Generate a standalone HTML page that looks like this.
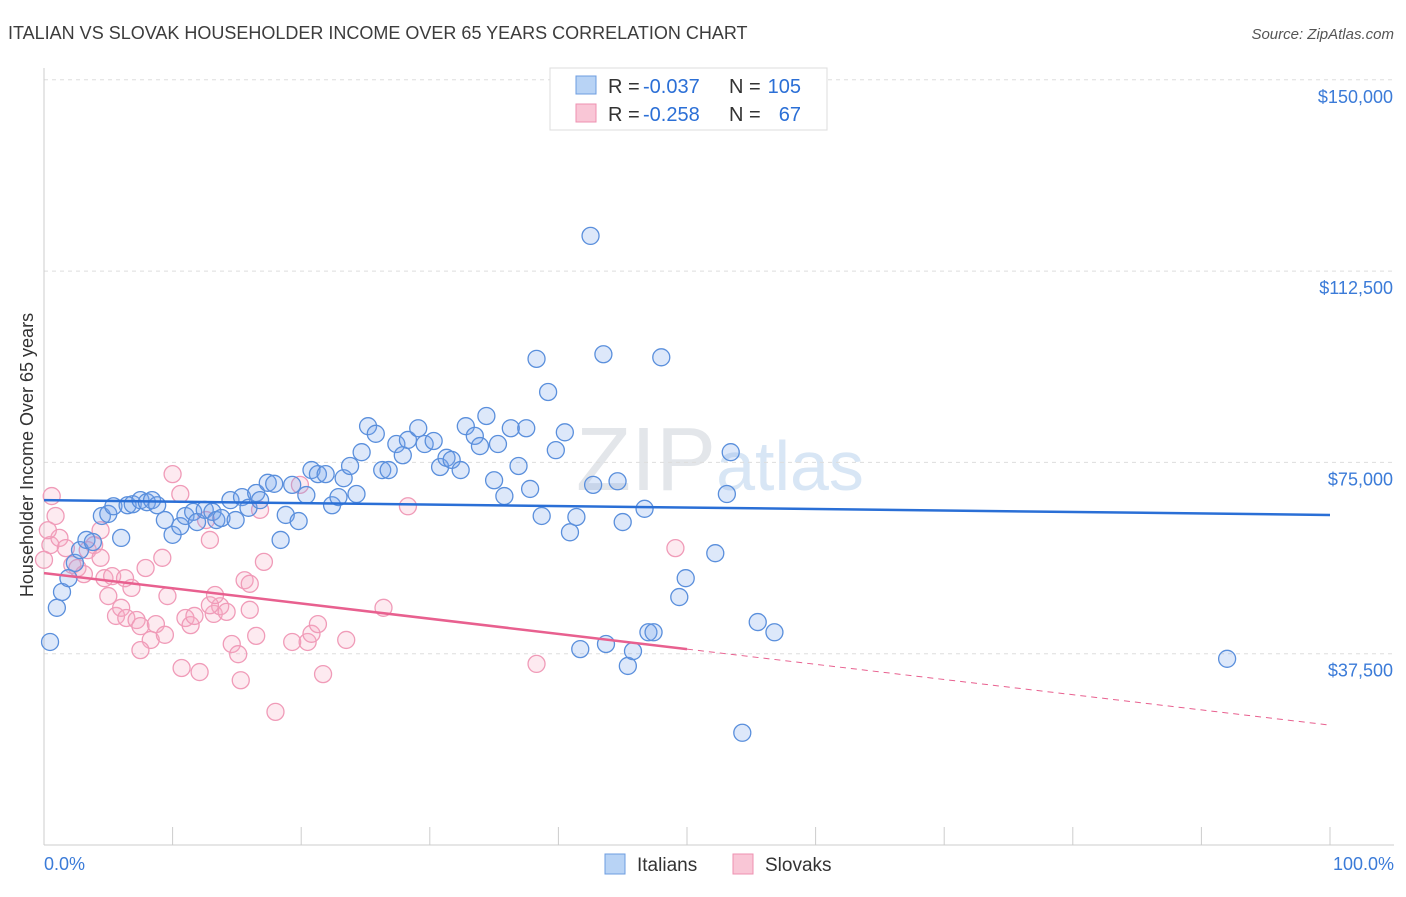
<!DOCTYPE html>
<html><head><meta charset="utf-8"><style>
body{margin:0;background:#fff;font-family:"Liberation Sans",sans-serif;}
svg text{font-family:"Liberation Sans",sans-serif;}
</style></head><body>
<svg id="chart" width="1406" height="892">
<text x="8" y="39" font-size="18" fill="#3c3c3c">ITALIAN VS SLOVAK HOUSEHOLDER INCOME OVER 65 YEARS CORRELATION CHART</text>
<text x="1394" y="39" font-size="15" fill="#555" text-anchor="end" font-style="italic">Source: ZipAtlas.com</text>
<text x="720" y="490" font-size="90" fill="#e4e8ee" text-anchor="middle" font-family="Liberation Serif"><tspan fill="#e3e6ea">ZIP</tspan><tspan fill="#d8e6f5" font-family="Liberation Sans" font-size="70">atlas</tspan></text>
<g id="grid"></g><g id="axes"></g><g id="marks"></g>
<text x="33" y="455" font-size="18" fill="#333" text-anchor="middle" transform="rotate(-90 33 455)">Householder Income Over 65 years</text>
<g>
<rect x="550" y="68" width="277" height="62" fill="#fff" stroke="#ddd"/>
<rect x="576" y="76" width="20" height="18" fill="#b8d3f5" stroke="#6d9de0"/>
<rect x="576" y="104" width="20" height="18" fill="#f9c6d6" stroke="#ee90b0"/>
<text x="608" y="93" font-size="20" fill="#333">R =</text>
<text x="643" y="93" font-size="20" fill="#2b6fd6">-0.037</text>
<text x="729" y="93" font-size="20" fill="#333">N =</text>
<text x="801" y="93" font-size="20" fill="#2b6fd6" text-anchor="end">105</text>
<text x="608" y="121" font-size="20" fill="#333">R =</text>
<text x="643" y="121" font-size="20" fill="#2b6fd6">-0.258</text>
<text x="729" y="121" font-size="20" fill="#333">N =</text>
<text x="801" y="121" font-size="20" fill="#2b6fd6" text-anchor="end">67</text>
</g>
<g>
<rect x="605" y="854" width="20" height="20" fill="#b8d3f5" stroke="#6d9de0"/>
<text x="637" y="871" font-size="19" fill="#333">Italians</text>
<rect x="733" y="854" width="20" height="20" fill="#f9c6d6" stroke="#ee90b0"/>
<text x="765" y="871" font-size="19" fill="#333">Slovaks</text>
</g>
<text x="44" y="870" font-size="18" fill="#3b7bd8">0.0%</text>
<text x="1394" y="870" font-size="18" fill="#3b7bd8" text-anchor="end">100.0%</text>
</svg>
<script>
const yTicks=[37.5,75,112.5,150];
const yTickLabels=["$37,500","$75,000","$112,500","$150,000"];
const italiansX=[0.47,1.0,1.4,1.9,2.4,2.8,3.3,3.8,4.5,5.0,5.4,6.0,6.5,6.9,7.5,8.0,8.4,8.8,9.4,10.0,10.6,11.0,11.6,11.9,12.5,13.1,13.4,13.8,14.5,14.9,15.4,15.9,16.5,16.8,17.4,17.9,18.4,18.8,19.3,19.8,20.4,20.8,21.3,21.9,22.4,22.9,23.3,23.8,24.3,24.7,25.2,25.8,26.3,26.8,27.4,27.9,28.3,29.1,29.6,30.3,30.8,31.3,31.7,32.4,32.8,33.5,33.9,34.4,35.0,35.3,35.8,36.3,36.9,37.5,37.8,38.3,38.7,39.2,39.8,40.5,40.9,41.4,41.7,42.5,42.7,43.5,43.7,44.6,45.0,45.4,45.8,46.7,47.0,47.4,48.0,49.4,49.9,52.2,53.1,53.4,54.3,55.5,56.8,92.0];
const italiansY=[39.8,46.5,49.6,52.3,55.3,57.8,59.8,59.4,64.5,64.9,66.4,60.2,66.6,66.8,67.6,67.2,67.6,66.6,63.7,60.8,62.5,64.5,65.3,63.3,65.7,65.3,63.7,64.1,67.6,63.7,68.2,66.1,69.0,67.6,71.0,70.8,59.8,64.7,70.6,63.5,68.6,73.5,72.7,72.7,66.6,68.2,71.9,74.3,68.8,77.0,82.1,80.6,73.5,73.5,78.6,76.4,79.4,81.7,78.6,79.2,74.1,75.9,75.5,73.5,82.1,80.2,78.2,84.1,71.5,78.6,68.4,81.7,74.3,81.7,69.8,95.3,64.5,88.8,77.4,80.9,61.3,64.3,38.4,119.4,70.6,96.2,39.4,71.3,63.3,35.1,38.0,65.9,41.7,41.7,95.6,48.6,52.3,57.2,68.8,77.0,22.0,43.7,41.7,36.5];
const slovaksX=[0.5,0.6,0.9,1.2,1.7,2.2,2.6,3.1,3.4,3.9,4.4,4.7,5.0,5.3,5.6,6.0,6.4,6.8,7.2,7.5,7.9,8.3,8.7,9.2,9.6,10.0,10.6,10.7,11.0,11.4,11.7,12.1,12.6,12.9,13.2,13.7,14.2,14.6,15.1,15.3,15.6,16.0,16.5,16.8,17.1,18.0,19.3,20.5,20.8,21.3,21.7,23.5,26.4,28.3,38.3,49.1,0.0,0.3,4.4,6.3,7.5,9.4,12.9,16.0,19.9,13.3];
const slovaksY=[58.8,68.4,64.5,60.2,58.2,54.9,54.3,53.1,57.8,58.8,56.3,52.3,48.8,52.7,44.9,46.5,44.5,50.4,44.1,42.9,54.3,40.2,43.3,56.3,48.8,72.7,68.8,34.7,44.5,43.1,44.9,33.9,63.7,59.8,45.3,46.8,45.7,39.4,37.4,32.3,51.9,51.2,41.0,65.7,55.5,26.1,39.8,39.8,41.4,43.3,33.5,40.2,46.5,66.4,35.5,58.2,55.9,61.7,61.7,52.3,38.2,41.2,47.0,46.1,70.6,49.0];
const italiansTrend=[67.6,64.7];
const slovaksTrend=[53.3,23.5];
const slovaksSolidEnd=50;

const NS="http://www.w3.org/2000/svg";
const X0=44,X1=1330,YB=845,PX_PER_K=191.3/37.5;
const sx=v=>X0+(X1-X0)*v/100;
const sy=v=>YB-v*PX_PER_K;
function mk(tag,attrs,parent){const e=document.createElementNS(NS,tag);for(const k in attrs)e.setAttribute(k,attrs[k]);parent.appendChild(e);return e;}
const grid=document.getElementById('grid'),axes=document.getElementById('axes'),marks=document.getElementById('marks');
yTicks.forEach((t,i)=>{
 const l=mk('line',{x1:X0,x2:1394,y1:sy(t),y2:sy(t),stroke:'#ddd','stroke-dasharray':'4,4'},grid);
 
 
 const tx=mk('text',{x:1393,y:sy(t)+23,'font-size':18,fill:'#3b7bd8','text-anchor':'end'},axes);
 tx.textContent=yTickLabels[i];
 
 
});
const ax=mk('line',{x1:X0,x2:1394,y1:YB,y2:YB,stroke:'#ccc'},axes);


const ay=mk('line',{x1:X0,x2:X0,y1:68,y2:YB,stroke:'#ccc'},axes);


for(let i=0;i<=10;i++){
 const t=mk('line',{x1:sx(i*10),x2:sx(i*10),y1:YB,y2:YB-18,stroke:'#ccc'},axes);
 
 
}
function pts(xs,ys,fill,stroke,name){
 xs.forEach((x,i)=>{
  const c=mk('circle',{cx:sx(x),cy:sy(ys[i]),r:8.5,fill:fill,stroke:stroke,'stroke-width':1.3},marks);
  
  
 });
}
pts(slovaksX,slovaksY,'rgba(246,170,196,0.25)','#f09bb8','slovak-point');
pts(italiansX,italiansY,'rgba(120,165,235,0.25)','#5a8fdc','italian-point');
const bl=mk('line',{x1:sx(0),y1:sy(italiansTrend[0]),x2:sx(100),y2:sy(italiansTrend[1]),stroke:'#2a6fd6','stroke-width':2.5},marks);


const pAt=x=>slovaksTrend[0]+(slovaksTrend[1]-slovaksTrend[0])*x/100;
const pl=mk('line',{x1:sx(0),y1:sy(pAt(0)),x2:sx(slovaksSolidEnd),y2:sy(pAt(slovaksSolidEnd)),stroke:'#e8608f','stroke-width':2.5},marks);


const pd=mk('line',{x1:sx(slovaksSolidEnd),y1:sy(pAt(slovaksSolidEnd)),x2:sx(100),y2:sy(pAt(100)),stroke:'#e8608f','stroke-width':1,'stroke-dasharray':'6,5'},marks);


</script>
</body></html>
